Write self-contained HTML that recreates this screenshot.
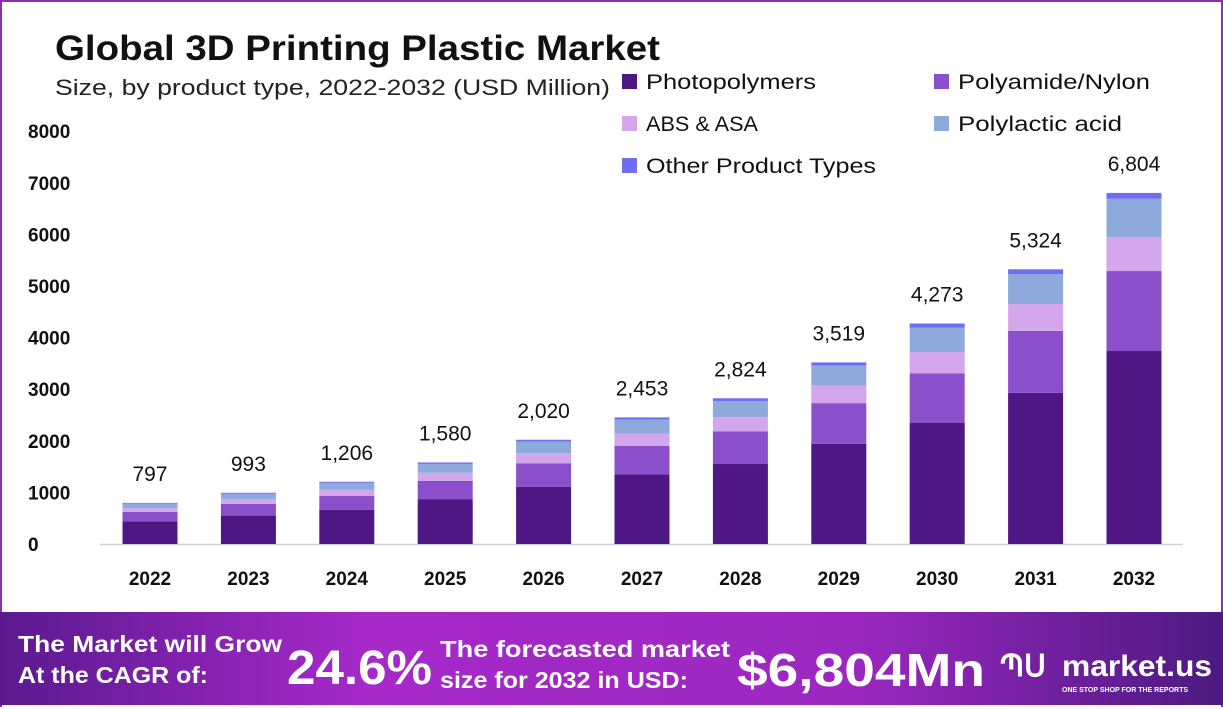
<!DOCTYPE html>
<html><head><meta charset="utf-8">
<style>
body{margin:0;width:1223px;height:709px;overflow:hidden;background:#fff;font-family:"Liberation Sans",sans-serif}
#wrap{position:absolute;left:0;top:0;width:1219px;height:705px;border:2px solid #8a2fb0;border-bottom:none;}
svg{position:absolute;left:0;top:0}
</style></head><body>
<div id="wrap"></div>
<svg id="chart" width="1223" height="709">
<defs>
<linearGradient id="bg" x1="0" x2="1" y1="0" y2="0">
<stop offset="0" stop-color="#5a1a8f"/><stop offset="0.3" stop-color="#a629c9"/><stop offset="0.7" stop-color="#9b27c0"/><stop offset="1" stop-color="#4c1a80"/>
</linearGradient>
</defs>
<text x="55" y="60" font-size="35" font-weight="bold" fill="#111" textLength="605" lengthAdjust="spacingAndGlyphs">Global 3D Printing Plastic Market</text>
<text x="55" y="95" font-size="22" fill="#222" textLength="555" lengthAdjust="spacingAndGlyphs">Size, by product type, 2022-2032 (USD Million)</text>
<g id="legend"></g>
<g id="axis"></g>
<g id="bars"></g>
<rect x="0" y="612" width="1223" height="93" fill="url(#bg)"/>
<g font-weight="bold" fill="#fff">
<text x="18" y="652" font-size="23" textLength="264" lengthAdjust="spacingAndGlyphs">The Market will Grow</text>
<text x="18" y="683" font-size="23" textLength="190" lengthAdjust="spacingAndGlyphs">At the CAGR of:</text>
<text x="287" y="684" font-size="48" textLength="145" lengthAdjust="spacingAndGlyphs">24.6%</text>
<text x="440" y="657" font-size="23" textLength="290" lengthAdjust="spacingAndGlyphs">The forecasted market</text>
<text x="440" y="688" font-size="23" textLength="248" lengthAdjust="spacingAndGlyphs">size for 2032 in USD:</text>
<text x="737" y="686" font-size="46" textLength="248" lengthAdjust="spacingAndGlyphs">$6,804Mn</text>
<text x="1000" y="676" font-size="30">ՊՍ</text>
<text x="1062" y="676" font-size="30" textLength="150" lengthAdjust="spacingAndGlyphs">market.us</text>
<text x="1062" y="692" font-size="7">ONE STOP SHOP FOR THE REPORTS</text>
</g>
</svg>
<script>
const years=["2022","2023","2024","2025","2026","2027","2028","2029","2030","2031","2032"];
const totals=[797,993,1206,1580,2020,2453,2824,3519,4273,5324,6804];
const totalLabels=["797","993","1,206","1,580","2,020","2,453","2,824","3,519","4,273","5,324","6,804"];
const photopolymers=[440,550,665,870,1110,1350,1550,1940,2345,2930,3740];
const polyamide=[180,225,270,355,455,550,635,790,960,1200,1550];
const absAsa=[75,95,115,155,195,240,275,340,415,520,660];
const polylactic=[88,108,135,172,225,270,310,390,470,580,740];
const other=[14,15,21,28,35,43,54,59,83,94,114];
const yTicks=[0,1000,2000,3000,4000,5000,6000,7000,8000];
const seriesNames=["Photopolymers","Polyamide/Nylon","ABS & ASA","Polylactic acid","Other Product Types"];
const series=[photopolymers,polyamide,absAsa,polylactic,other];
const colors=["#4e1783","#8b4fcc","#d4a6ec","#8ea9db","#6f6ef0"];
const NS="http://www.w3.org/2000/svg";
const y=v=>544-v*0.0516;
const x=i=>150+i*98.4;
function mk(t,a,p){const e=document.createElementNS(NS,t);for(const k in a)e.setAttribute(k,a[k]);p.appendChild(e);return e;}
const ax=document.getElementById('axis');
yTicks.forEach(t=>{const e=mk('text',{x:28,y:y(t)+7,'font-size':19,'font-weight':'bold',fill:'#111'},ax);e.textContent=t;

});
const base=mk('line',{x1:100,x2:1183,y1:544.5,y2:544.5,stroke:'#d0d0d0','stroke-width':1.5},ax);


const bg=document.getElementById('bars');
years.forEach((yr,i)=>{let cum=0;
series.forEach((s,j)=>{const r=mk('rect',{x:x(i)-27.5,width:55,y:y(cum+s[i]),height:y(cum)-y(cum+s[i]),fill:colors[j]},bg);cum+=s[i];

});
const l=mk('text',{x:x(i),y:y(totals[i])-22,'font-size':21,fill:'#111','text-anchor':'middle'},bg);l.textContent=totalLabels[i];


const xl=mk('text',{x:x(i),y:585,'font-size':19,'font-weight':'bold',fill:'#111','text-anchor':'middle'},bg);xl.textContent=yr;

});
const lg=document.getElementById('legend');
const lp=[[622,82],[934,82],[622,124],[934,124],[622,166]];
const lw=[170,192,112,164,230];
seriesNames.forEach((n,j)=>{const g=mk('g',{},lg);


mk('rect',{x:lp[j][0],y:lp[j][1]-8,width:15,height:15,fill:colors[j]},g);
const t=mk('text',{x:lp[j][0]+24,y:lp[j][1]+7,'font-size':21,fill:'#111',textLength:lw[j],lengthAdjust:'spacingAndGlyphs'},g);t.textContent=n;});
</script>
</body></html>
